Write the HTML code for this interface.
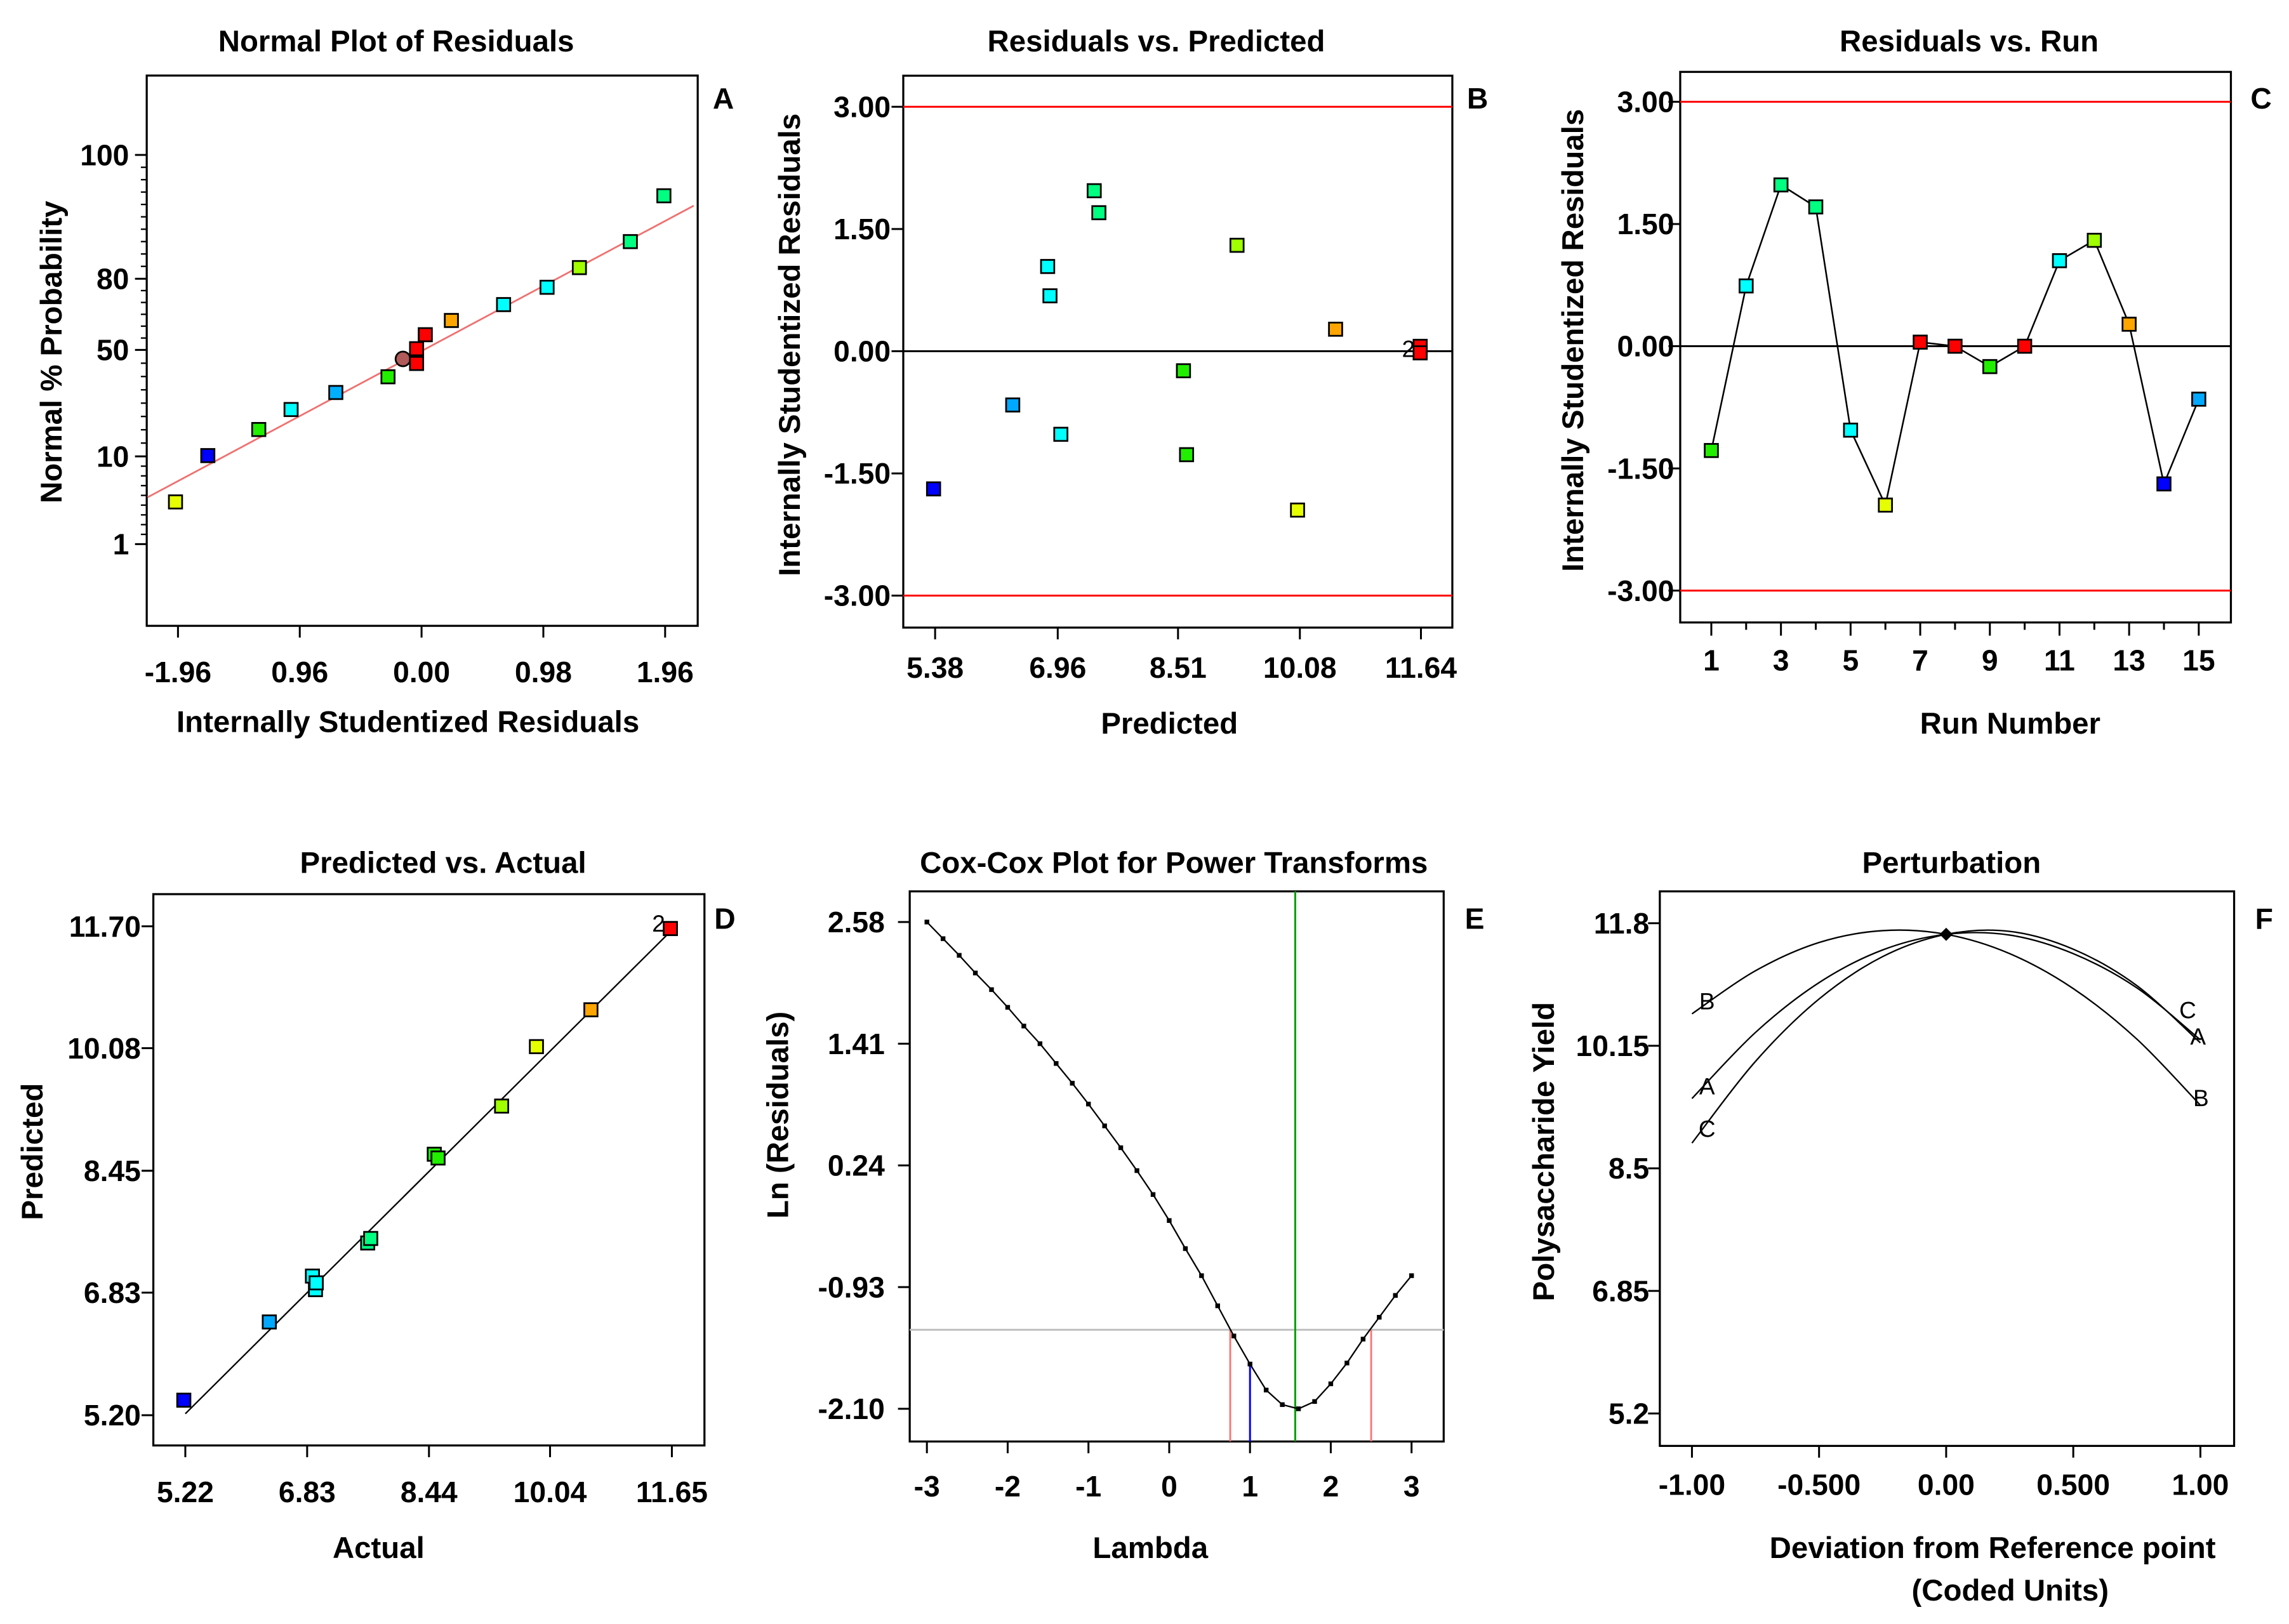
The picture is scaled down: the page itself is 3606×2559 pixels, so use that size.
<!DOCTYPE html>
<html><head><meta charset="utf-8"><title>Diagnostics plots</title>
<style>
html,body{margin:0;padding:0;background:#fff;}
svg{display:block;}
text{font-family:"Liberation Sans",Arial,sans-serif;fill:#000;}
.b{font-weight:bold;font-size:20px;}
.t{font-weight:bold;font-size:20.5px;}
.l{font-size:16px;}
</style></head>
<body>
<svg id="fig" xmlns="http://www.w3.org/2000/svg" width="3606" height="2559" viewBox="0 0 1560 1107" preserveAspectRatio="none"></svg>
<script>
// ---------- Panel A: normal plot ----------
const aResid = [-1.98,-1.72,-1.31,-1.05,-0.69,-0.27,-0.15,-0.04,-0.04,0.03,0.24,0.66,1.01,1.27,1.68,1.95];
const aProb  = [5.33,10.3,20.1,27.6,34.0,39.9,46.6,50.5,44.9,56.4,62.4,69.1,76.4,81.8,86.0,93.4];
const aColors = ['#e6ff00','#0000ff','#22ee00','#00ffff','#00b0ff','#22ee00','#b05a5a','#ff0000','#ff0000','#ff0000','#ffa500','#00ffff','#00ffff','#a0ff00','#00ff80','#00ff80'];
const aXTicks = [-1.96,-0.98,0,0.98,1.96];
const aXLabels = ['-1.96','0.96','0.00','0.98','1.96'];
const aYTicks = [1,10,50,80,100];
const aYLabels = ['1','10','50','80','100'];
const aYMinor = [2,3,4,5,6,7,8,9,15,20,25,30,35,40,45,55,60,65,70,75,82,84,86,88,90,92,94,96,98];
const aFit = [[-2.205,5.8],[2.19,91.8]];
// ---------- Panel B ----------
const bPred  = [5.36,6.38,6.83,6.86,7.00,7.43,7.49,8.58,8.62,9.27,10.05,10.54,11.63,11.63];
const bResid = [-1.69,-0.66,1.04,0.68,-1.02,1.97,1.70,-0.24,-1.27,1.30,-1.95,0.27,0.06,-0.02];
const bColors = ['#0000ff','#00a8ff','#00ffff','#00ffff','#00ffff','#00ff80','#00ff80','#22ee00','#22ee00','#a0ff00','#e6ff00','#ffa500','#ff0000','#ff0000'];
const bXTicks = [5.38,6.96,8.51,10.08,11.64];
const bXLabels = ['5.38','6.96','8.51','10.08','11.64'];
const resTicks = [3,1.5,0,-1.5,-3];
const resLabels = ['3.00','1.50','0.00','-1.50','-3.00'];
// ---------- Panel C ----------
const cRuns = [1,2,3,4,5,6,7,8,9,10,11,12,13,14,15];
const cResid = [-1.28,0.74,1.98,1.71,-1.03,-1.95,0.05,0.00,-0.25,0.00,1.05,1.30,0.27,-1.69,-0.65];
const cColors = ['#22ee00','#00ffff','#00ff80','#00ff80','#00ffff','#e6ff00','#ff0000','#ff0000','#22ee00','#ff0000','#00ffff','#a0ff00','#ffa500','#0000ff','#00a8ff'];
const cXLabels = ['1','3','5','7','9','11','13','15'];
// ---------- Panel D ----------
const dActual = [5.20,6.33,6.90,6.94,6.95,7.63,7.67,8.51,8.56,9.40,9.86,10.58,11.63,11.63];
const dPred   = [5.40,6.44,7.05,6.87,6.96,7.49,7.55,8.67,8.62,9.31,10.10,10.59,11.67,11.67];
const dColors = ['#0000ff','#00a8ff','#00ffff','#00ffff','#00ffff','#00ff80','#00ff80','#22ee00','#22ee00','#a0ff00','#e6ff00','#ffa500','#ff0000','#ff0000'];
const dXTicks = [5.22,6.83,8.44,10.04,11.65];
const dXLabels = ['5.22','6.83','8.44','10.04','11.65'];
const dYTicks = [11.70,10.08,8.45,6.83,5.20];
const dYLabels = ['11.70','10.08','8.45','6.83','5.20'];
// ---------- Panel E ----------
const eLambda = [-3,-2.8,-2.6,-2.4,-2.2,-2,-1.8,-1.6,-1.4,-1.2,-1,-0.8,-0.6,-0.4,-0.2,0,0.2,0.4,0.6,0.8,1,1.2,1.4,1.6,1.8,2,2.2,2.4,2.6,2.8,3];
const eLn = [2.58,2.42,2.26,2.09,1.93,1.76,1.58,1.41,1.22,1.03,0.83,0.62,0.41,0.19,-0.04,-0.29,-0.56,-0.82,-1.11,-1.40,-1.67,-1.92,-2.06,-2.10,-2.03,-1.86,-1.66,-1.43,-1.22,-1.01,-0.82];
const eXTicks = [-3,-2,-1,0,1,2,3];
const eXLabels = ['-3','-2','-1','0','1','2','3'];
const eYTicks = [2.58,1.41,0.24,-0.93,-2.10];
const eYLabels = ['2.58','1.41','0.24','-0.93','-2.10'];
const eCI = -1.34, eBest = 1.56, eCurrent = 1, eLow = 0.755, eHigh = 2.50;
// ---------- Panel F ----------
const fX = [-1,-0.75,-0.5,-0.25,0,0.25,0.5,0.75,1];
const fA = [9.44,10.33,11.0,11.44,11.65,11.64,11.39,10.93,10.23];
const fB = [10.58,11.16,11.54,11.70,11.65,11.39,10.92,10.24,9.35];
const fC = [8.84,9.94,10.78,11.35,11.65,11.69,11.45,10.96,10.19];
const fXTicks = [-1,-0.5,0,0.5,1];
const fXLabels = ['-1.00','-0.500','0.00','0.500','1.00'];
const fYTicks = [11.8,10.15,8.5,6.85,5.2];
const fYLabels = ['11.8','10.15','8.5','6.85','5.2'];

const svg = document.getElementById('fig');
const NS = 'http://www.w3.org/2000/svg';
function mk(tag, attrs, parent){
  const el = document.createElementNS(NS, tag);
  for (const k in attrs) el.setAttribute(k, attrs[k]);
  (parent||svg).appendChild(el);
  return el;
}
function lin(d0,d1,r0,r1){ return v => r0 + (v-d0)*(r1-r0)/(d1-d0); }
function txt(x,y,s,cls,anchor,parent,rot){
  const t = mk('text',{x:x,y:y,'class':cls,'text-anchor':anchor||'middle'},parent);
  if (rot) t.setAttribute('transform','rotate(-90 '+x+' '+y+')');
  t.textContent = s;
  return t;
}
function group(name){
  const g = mk('g',{});
  
  
  return g;
}
function box(g,x0,x1,y0,y1){
  const r = mk('rect',{x:x0,y:y0,width:x1-x0,height:y1-y0,fill:'none',stroke:'#000','stroke-width':1.4},g);
  
  
}
function square(g,x,y,c,name){
  const r = mk('rect',{x:x-4.5,y:y-4.5,width:9,height:9,fill:c,stroke:'#000','stroke-width':1.2},g);
  
  
  return r;
}
function xTicks(g,vals,labels,sx,yb,ly){
  vals.forEach((v,i)=>{
    const l = mk('line',{x1:sx(v),x2:sx(v),y1:yb,y2:yb+8,stroke:'#000','stroke-width':1.3},g);
    
    
    if (labels && labels[i]!==undefined){
      const t = txt(sx(v),ly,labels[i],'b','middle',g);
      
      
    }
  });
}
function yTicks(g,vals,labels,sy,xl,lx){
  vals.forEach((v,i)=>{
    const l = mk('line',{x1:xl-8,x2:xl,y1:sy(v),y2:sy(v),stroke:'#000','stroke-width':1.3},g);
    
    
    const t = txt(lx,sy(v)+7,labels[i],'b','end',g);
    
    
  });
}
function hline(g,y,x0,x1,c,name,w){
  const l = mk('line',{x1:x0,x2:x1,y1:y,y2:y,stroke:c,'stroke-width':w||1.3},g);
  
  
}
function label(g,x,y,s,name,cls,anchor,rot){
  const t = txt(x,y,s,cls||'t',anchor||'middle',g,rot);
  
  
}

// ===== Panel A =====
(function(){
  const g = group('panel-a-normal-plot');
  const x0=100,x1=475.5,y0=51.5,y1=426.6;
  const sx = lin(-1.96,1.96,121.3,453.3);
  const py = [[1,370.9],[10,311.1],[50,238.5],[80,190.0],[100,105.6]];
  const sy = p => {
    for (let i=0;i<py.length-1;i++){
      if (p<=py[i+1][0] || i===py.length-2){
        const a=py[i],b=py[i+1];
        return a[1]+(p-a[0])*(b[1]-a[1])/(b[0]-a[0]);
      }
    }
  };
  box(g,x0,x1,y0,y1);
  aYMinor.forEach(p=>{
    const l = mk('line',{x1:x0-4,x2:x0,y1:sy(p),y2:sy(p),stroke:'#000','stroke-width':1},g);
    
    
  });
  yTicks(g,aYTicks,aYLabels,sy,x0,88);
  xTicks(g,aXTicks,aXLabels,sx,y1,465);
  const fl = mk('line',{x1:sx(aFit[0][0]),y1:sy(aFit[0][1]),x2:sx(aFit[1][0]),y2:sy(aFit[1][1]),stroke:'#f07070','stroke-width':1.2},g);
  
  
  aResid.forEach((r,i)=>{
    if (aColors[i]==='#b05a5a'){
      const c = mk('circle',{cx:sx(r),cy:sy(aProb[i]),r:5,fill:aColors[i],stroke:'#000','stroke-width':1.2},g);
      
      
    } else square(g,sx(r),sy(aProb[i]),aColors[i],'residual-point');
  });
  label(g,270,35,'Normal Plot of Residuals','chart-title-a');
  label(g,278,499,'Internally Studentized Residuals','x-axis-title-a');
  label(g,42,240,'Normal % Probability','y-axis-title-a','t','middle',true);
  label(g,493,74,'A','panel-letter-a','b');
})();

// ===== Panel B =====
(function(){
  const g = group('panel-b-residuals-vs-predicted');
  const x0=615.6,x1=989.8,y0=51.6,y1=427.8;
  const sx = lin(5.38,11.64,637.3,968.4);
  const sy = lin(0,3,239.4,72.8);
  box(g,x0,x1,y0,y1);
  hline(g,sy(3),x0,x1,'#ff0000','upper-limit-line');
  hline(g,sy(-3),x0,x1,'#ff0000','lower-limit-line');
  hline(g,sy(0),x0,x1,'#000','zero-line');
  yTicks(g,resTicks,resLabels,sy,x0,607);
  xTicks(g,bXTicks,bXLabels,sx,y1,462);
  bPred.forEach((p,i)=>square(g,sx(p),sy(bResid[i]),bColors[i],'residual-point'));
  label(g,sx(bPred[12])-8,sy(0)+4,'2','overlap-count','l','middle');
  label(g,788,35,'Residuals vs. Predicted','chart-title-b');
  label(g,797,500,'Predicted','x-axis-title-b');
  label(g,545,235,'Internally Studentized Residuals','y-axis-title-b','t','middle',true);
  label(g,1007,74,'B','panel-letter-b','b');
})();

// ===== Panel C =====
(function(){
  const g = group('panel-c-residuals-vs-run');
  const x0=1145.1,x1=1520.4,y0=49,y1=424.3;
  const sx = lin(1,15,1166.3,1498.5);
  const sy = lin(0,3,236,69.4);
  box(g,x0,x1,y0,y1);
  hline(g,sy(3),x0,x1,'#ff0000','upper-limit-line');
  hline(g,sy(-3),x0,x1,'#ff0000','lower-limit-line');
  hline(g,sy(0),x0,x1,'#000','zero-line');
  yTicks(g,resTicks,resLabels,sy,x0,1141);
  cRuns.forEach(r=>{
    const l = mk('line',{x1:sx(r),x2:sx(r),y1:y1,y2:y1+(r%2?9:5),stroke:'#000','stroke-width':1.3},g);
    
    
  });
  cXLabels.forEach(s=>{
    const t = txt(sx(+s),457,s,'b','middle',g);
    
    
  });
  const pl = mk('polyline',{points:cRuns.map((r,i)=>sx(r)+','+sy(cResid[i])).join(' '),fill:'none',stroke:'#000','stroke-width':1.1},g);
  
  
  cRuns.forEach((r,i)=>square(g,sx(r),sy(cResid[i]),cColors[i],'run-point'));
  label(g,1342,35,'Residuals vs. Run','chart-title-c');
  label(g,1370,500,'Run Number','x-axis-title-c');
  label(g,1079,232,'Internally Studentized Residuals','y-axis-title-c','t','middle',true);
  label(g,1541,74,'C','panel-letter-c','b');
})();

// ===== Panel D =====
(function(){
  const g = group('panel-d-predicted-vs-actual');
  const x0=104.5,x1=480.1,y0=609.5,y1=985.3;
  const sx = lin(5.22,11.65,126.3,457.9);
  const sy = lin(5.20,11.70,964.7,631.4);
  box(g,x0,x1,y0,y1);
  yTicks(g,dYTicks,dYLabels,sy,x0,96);
  xTicks(g,dXTicks,dXLabels,sx,y1,1024);
  const fl = mk('line',{x1:sx(5.22),y1:sy(5.22),x2:sx(11.63),y2:sy(11.63),stroke:'#000','stroke-width':1},g);
  
  
  dActual.forEach((a,i)=>square(g,sx(a),sy(dPred[i]),dColors[i],'actual-predicted-point'));
  label(g,sx(dActual[12])-8,sy(dPred[12])+2,'2','overlap-count','l','middle');
  label(g,302,595,'Predicted vs. Actual','chart-title-d');
  label(g,258,1062,'Actual','x-axis-title-d');
  label(g,29,785,'Predicted','y-axis-title-d','t','middle',true);
  label(g,494,633,'D','panel-letter-d','b');
})();

// ===== Panel E =====
(function(){
  const g = group('panel-e-box-cox');
  const x0=620,x1=983.9,y0=607.6,y1=982.6;
  const sx = lin(-3,3,631.7,962);
  const sy = lin(-2.10,2.58,960.3,628.5);
  box(g,x0,x1,y0,y1);
  yTicks(g,eYTicks,eYLabels,sy,x0,603);
  xTicks(g,eXTicks,eXLabels,sx,y1,1020);
  hline(g,sy(eCI),x0,x1,'#c0c0c0','confidence-level-line');
  const gl = mk('line',{x1:sx(eBest),x2:sx(eBest),y1:y0,y2:y1,stroke:'#00a000','stroke-width':1.3},g);
  
  
  [eLow,eHigh].forEach(v=>{
    const l = mk('line',{x1:sx(v),x2:sx(v),y1:sy(eCI),y2:y1,stroke:'#ff7070','stroke-width':1.2},g);
    
    
  });
  const i1 = eLambda.indexOf(eCurrent);
  const bl = mk('line',{x1:sx(eCurrent),x2:sx(eCurrent),y1:sy(eLn[i1]),y2:y1,stroke:'#0000ff','stroke-width':1.3},g);
  
  
  const pl = mk('polyline',{points:eLambda.map((l,i)=>sx(l)+','+sy(eLn[i])).join(' '),fill:'none',stroke:'#000','stroke-width':1},g);
  
  
  eLambda.forEach((l,i)=>{
    const d = mk('rect',{x:sx(l)-1.6,y:sy(eLn[i])-1.6,width:3.2,height:3.2,fill:'#000'},g);
    
    
  });
  label(g,800,595,'Cox-Cox Plot for Power Transforms','chart-title-e');
  label(g,784,1062,'Lambda','x-axis-title-e');
  label(g,537,760,'Ln (Residuals)','y-axis-title-e','t','middle',true);
  label(g,1005,633,'E','panel-letter-e','b');
})();

// ===== Panel F =====
(function(){
  const g = group('panel-f-perturbation');
  const x0=1131.2,x1=1522.6,y0=607.6,y1=985.6;
  const sx = lin(-1,1,1153.1,1499.6);
  const sy = lin(5.2,11.8,963.5,629.3);
  box(g,x0,x1,y0,y1);
  yTicks(g,fYTicks,fYLabels,sy,x0,1124);
  xTicks(g,fXTicks,fXLabels,sx,y1,1019);
  function smooth(vals){
    const p = fX.map((x,i)=>[sx(x),sy(vals[i])]);
    let d = 'M'+p[0][0]+','+p[0][1];
    for (let i=0;i<p.length-1;i++){
      const a=p[Math.max(0,i-1)],b=p[i],c=p[i+1],e=p[Math.min(p.length-1,i+2)];
      d += ' C'+(b[0]+(c[0]-a[0])/6)+','+(b[1]+(c[1]-a[1])/6)+' '+(c[0]-(e[0]-b[0])/6)+','+(c[1]-(e[1]-b[1])/6)+' '+c[0]+','+c[1];
    }
    return d;
  }
  [['A',fA],['B',fB],['C',fC]].forEach(([n,v])=>{
    const p = mk('path',{d:smooth(v),fill:'none',stroke:'#000','stroke-width':1},g);
    
    
  });
  const c0 = fA[fX.indexOf(0)];
  const dm = mk('path',{d:'M'+sx(0)+','+(sy(c0)-4.5)+' l4.5,4.5 l-4.5,4.5 l-4.5,-4.5 z',fill:'#000'},g);
  
  
  label(g,1163.4,688,'B','curve-label-b-left','l');
  label(g,1163.4,746,'A','curve-label-a-left','l');
  label(g,1163.4,775,'C','curve-label-c-left','l');
  label(g,1491,694,'C','curve-label-c-right','l');
  label(g,1498,712,'A','curve-label-a-right','l');
  label(g,1500,754,'B','curve-label-b-right','l');
  label(g,1330,595,'Perturbation','chart-title-f');
  label(g,1358,1062,'Deviation from Reference point','x-axis-title-f');
  label(g,1370,1091,'(Coded Units)','x-axis-subtitle-f');
  label(g,1059,785,'Polysaccharide Yield','y-axis-title-f','t','middle',true);
  label(g,1543,633,'F','panel-letter-f','b');
})();
</script>
</body></html>
